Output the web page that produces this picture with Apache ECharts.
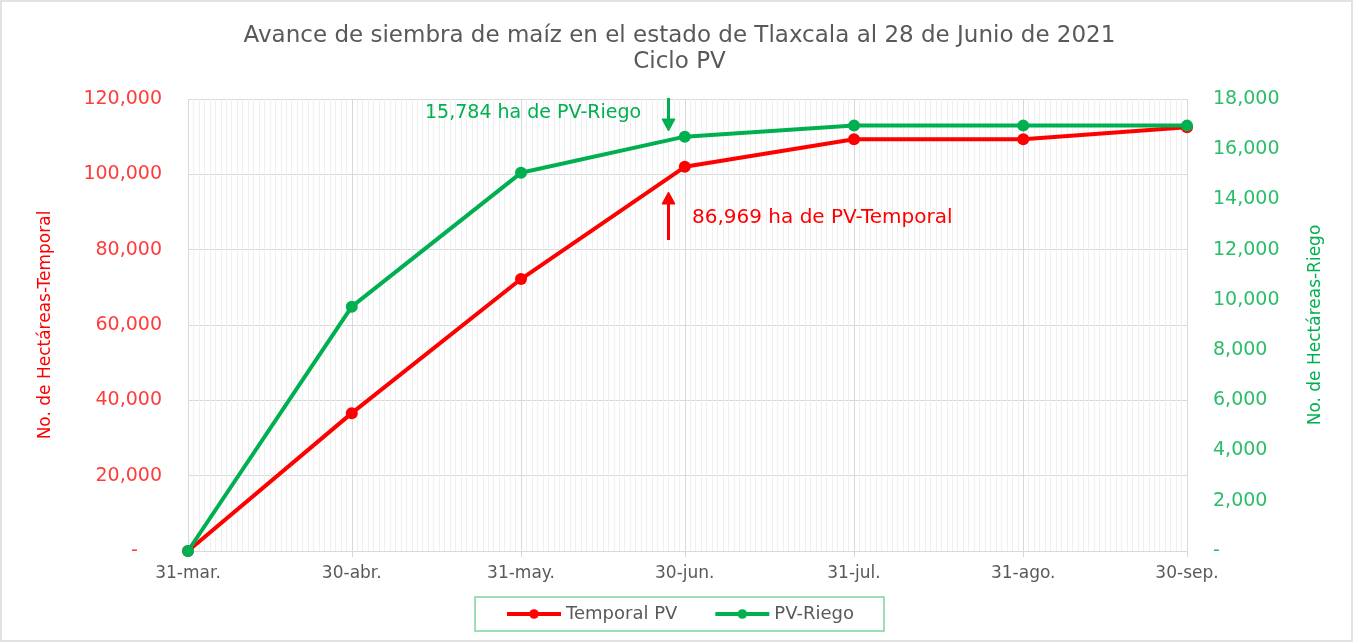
<!DOCTYPE html>
<html>
<head>
<meta charset="utf-8">
<script src="https://cdn.jsdelivr.net/npm/echarts@6/dist/echarts.min.js"></script>
<style>
  html, body { margin: 0; padding: 0; background: #fff; }
  #main { width: 1359px; height: 643px; }
</style>
</head>
<body>
<div id="main"></div>
<script>
// fechas de corte (fin de mes) y sus etiquetas
var fechas = ['2021-03-31', '2021-04-30', '2021-05-31', '2021-06-30', '2021-07-31', '2021-08-31', '2021-09-30'];
var etiquetas = ['31-mar.', '30-abr.', '31-may.', '30-jun.', '31-jul.', '31-ago.', '30-sep.'];
// hectáreas sembradas
var temporal = [0, 36600, 72200, 102000, 109300, 109300, 112500];
var riego = [0, 9730, 15060, 16500, 16940, 16940, 16940];
var ejeTemporal = [0, 20000, 40000, 60000, 80000, 100000, 120000];
var ejeRiego = [0, 2000, 4000, 6000, 8000, 10000, 12000, 14000, 16000, 18000];

// todos los días del periodo (para la cuadrícula diaria)
var dias = [];
var d = new Date(fechas[0] + 'T00:00:00Z');
var fin = new Date(fechas[fechas.length - 1] + 'T00:00:00Z');
while (d <= fin) {
  dias.push(d.toISOString().slice(0, 10));
  d = new Date(d.getTime() + 86400000);
}

var font = 'DejaVu Sans';
var esCorte = function (i, v) { return fechas.indexOf(v) >= 0; };
var noCorte = function (i, v) { return fechas.indexOf(v) < 0; };
var fmt = function (v) { return v === 0 ? '-    ' : v.toLocaleString('en-US'); };

var chart = echarts.init(document.getElementById('main'));

var option = {
  animation: false,
  backgroundColor: '#fff',
  textStyle: { fontFamily: font },
  title: [
    {
      text: 'Avance de siembra de maíz en el estado de Tlaxcala al 28 de Junio de 2021\nCiclo PV',
      left: 'center',
      top: 18,
      textStyle: { fontFamily: font, fontSize: 23, fontWeight: 'normal', color: '#595959', lineHeight: 26 }
    },
    // notas
    {
      text: '15,784 ha de PV-Riego',
      left: 420,
      top: 99,
      textStyle: { fontFamily: font, fontSize: 19, fontWeight: 'normal', color: '#00b050' }
    },
    {
      text: '86,969 ha de PV-Temporal',
      left: 687,
      top: 203,
      textStyle: { fontFamily: font, fontSize: 20, fontWeight: 'normal', color: '#ff0000' }
    }
  ],
  legend: {
    left: 'center',
    top: 597,
    data: ['Temporal PV', 'PV-Riego'],
    borderColor: '#7fd2a0',
    borderWidth: 1.5,
    padding: [8, 30, 8, 30],
    itemGap: 36,
    itemWidth: 54,
    itemHeight: 12,
    lineStyle: { width: 4 },
    textStyle: { fontFamily: font, fontSize: 18, color: '#595959' }
  },
  grid: { left: 188, right: 172, top: 99, bottom: 92 },
  xAxis: [
    {
      type: 'category',
      data: dias,
      boundaryGap: false,
      axisLine: { lineStyle: { color: '#d9d9d9' } },
      axisTick: { interval: esCorte, length: 6, lineStyle: { color: '#d9d9d9' } },
      axisLabel: {
        interval: esCorte,
        margin: 14,
        fontFamily: font, fontSize: 17, color: '#595959',
        formatter: function (v) { return etiquetas[fechas.indexOf(v)]; }
      },
      splitLine: { show: true, interval: esCorte, lineStyle: { color: '#d9d9d9', width: 1 } }
    },
    {
      type: 'category',
      data: dias,
      boundaryGap: false,
      position: 'bottom',
      axisLine: { show: false },
      axisTick: { show: false },
      axisLabel: { show: false },
      splitLine: { show: true, interval: noCorte, lineStyle: { color: '#efefef', width: 1 } }
    }
  ],
  yAxis: [
    {
      type: 'value',
      min: ejeTemporal[0],
      max: ejeTemporal[ejeTemporal.length - 1],
      interval: ejeTemporal[1] - ejeTemporal[0],
      name: 'No. de Hectáreas-Temporal',
      nameLocation: 'middle',
      nameRotate: 90,
      nameGap: 134,
      nameTextStyle: { fontFamily: font, fontSize: 17, color: '#ff0000' },
      axisLine: { show: false },
      axisTick: { show: false },
      axisLabel: { fontFamily: font, fontSize: 19, color: '#ff3b3b', margin: 26, formatter: fmt },
      splitLine: { lineStyle: { color: '#d9d9d9' } }
    },
    {
      type: 'value',
      min: ejeRiego[0],
      max: ejeRiego[ejeRiego.length - 1],
      interval: ejeRiego[1] - ejeRiego[0],
      name: 'No. de Hectáreas-Riego',
      nameLocation: 'middle',
      nameRotate: 90,
      nameGap: 120,
      nameTextStyle: { fontFamily: font, fontSize: 17, color: '#00b050' },
      axisLine: { show: false },
      axisTick: { show: false },
      axisLabel: {
        fontFamily: font, fontSize: 19, color: '#2bbd6a', margin: 26,
        formatter: function (v) { return v === 0 ? '-' : v.toLocaleString('en-US'); }
      },
      splitLine: { show: false }
    }
  ],
  series: [
    {
      name: 'Temporal PV',
      type: 'line',
      xAxisIndex: 0,
      yAxisIndex: 0,
      data: fechas.map(function (f, i) { return [f, temporal[i]]; }),
      symbol: 'circle',
      symbolSize: 12,
      lineStyle: { color: '#ff0000', width: 4 },
      itemStyle: { color: '#ff0000' }
    },
    {
      name: 'PV-Riego',
      type: 'line',
      xAxisIndex: 0,
      yAxisIndex: 1,
      data: fechas.map(function (f, i) { return [f, riego[i]]; }),
      symbol: 'circle',
      symbolSize: 12,
      lineStyle: { color: '#00b050', width: 4 },
      itemStyle: { color: '#00b050' }
    }
  ],
  graphic: [
    // marco del gráfico
    { type: 'rect', silent: true, shape: { x: 1, y: 1, width: 1351, height: 640 }, style: { fill: 'none', stroke: '#d9d9d9', lineWidth: 1.5 } },
    // flechas
    { type: 'polyline', silent: true, z: 100, shape: { points: [[668.5, 98], [668.5, 121]] }, style: { stroke: '#00b050', lineWidth: 3, fill: null } },
    { type: 'polygon', silent: true, z: 100, shape: { points: [[662, 119], [675, 119], [668.5, 131]] }, style: { fill: '#00b050', stroke: '#00b050', lineWidth: 1 } },
    { type: 'polyline', silent: true, z: 100, shape: { points: [[668.5, 240], [668.5, 202]] }, style: { stroke: '#ff0000', lineWidth: 3, fill: null } },
    { type: 'polygon', silent: true, z: 100, shape: { points: [[662, 204], [675, 204], [668.5, 192]] }, style: { fill: '#ff0000', stroke: '#ff0000', lineWidth: 1 } }
  ]
};

chart.setOption(option);
</script>
</body>
</html>
